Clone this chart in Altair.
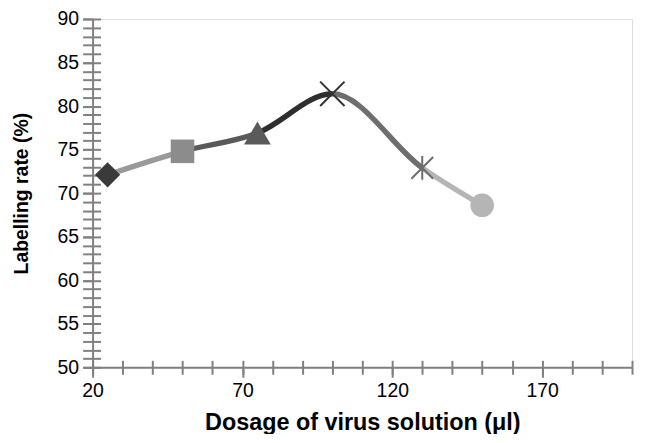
import altair as alt
import pandas as pd

# ---- data ----
dosage = [25, 50, 75, 100, 130, 150]
rate = [72.1, 74.8, 76.9, 81.4, 72.9, 68.6]
x_major = [20, 70, 120, 170]
x_minor = list(range(20, 201, 10))
y_major = list(range(50, 91, 5))
y_minor = list(range(50, 91, 1))

# ---- styles ----
X_PATH = "M -1 -1 L 1 1 M -1 1 L 1 -1"
AST_PATH = "M -1 -1 L 1 1 M -1 1 L 1 -1 M 0 -1.1 L 0 1.1"
marker_shapes = ["diamond", "square", "triangle-up", X_PATH, AST_PATH, "circle"]
marker_colors = ["#3a3a3a", "#8c8c8c", "#5a5a5a", "#333333", "#6e6e6e", "#b5b5b5"]
marker_sizes = [640, 560, 720, 600, 480, 560]
marker_filled = [True, True, True, False, False, True]
segment_colors = ["#9a9a9a", "#5a5a5a", "#2e2e2e", "#6e6e6e", "#b5b5b5"]

FONT = "Liberation Sans"
AX = "#808080"

df = pd.DataFrame({
    "dosage": dosage,
    "rate": rate,
    "shape": marker_shapes,
    "color": marker_colors,
    "size": marker_sizes,
    "filled": marker_filled,
})

lo, hi = dosage[0], dosage[-1]
stops = []
for i, c in enumerate(segment_colors):
    a = (dosage[i] - lo) / (hi - lo)
    b = (dosage[i + 1] - lo) / (hi - lo)
    stops.append(alt.GradientStop(offset=a, color=c))
    stops.append(alt.GradientStop(offset=b, color=c))
grad = alt.Gradient(gradient="linear", stops=stops, x1=0, x2=1, y1=0, y2=0)

xs = alt.Scale(domain=[20, 200], nice=False, zero=False)
ys = alt.Scale(domain=[50, 90], nice=False, zero=False)

common = dict(grid=False, tickColor=AX, tickWidth=2)

# main axes (labels + major ticks + domain)
x_main = alt.Axis(orient="bottom", values=x_major, tickSize=10, domainColor=AX, domainWidth=2,
                  labelFont=FONT, labelFontSize=19.5, labelColor="black", labelPadding=4,
                  labelFlush=False, title="Dosage of virus solution (μl)",
                  titleFont=FONT, titleFontSize=23.5, titleFontWeight="bold",
                  titleColor="black", titlePadding=11, **common)
y_main = alt.Axis(orient="left", values=y_major, tickSize=10, domainColor=AX, domainWidth=2,
                  labelFont=FONT, labelFontSize=19.5, labelColor="black", labelPadding=4,
                  labelFlush=False, title="Labelling rate (%)",
                  titleFont=FONT, titleFontSize=19.5, titleFontWeight="bold",
                  titleColor="black", titlePadding=26, **common)
# outer minor ticks
x_out = alt.Axis(orient="bottom", values=x_minor, tickSize=7, domain=False, labels=False,
                 title=None, **common)
y_out = alt.Axis(orient="left", values=y_minor, tickSize=10, domain=False, labels=False,
                 title=None, **common)
# inner halves of the crossing ticks
x_in = alt.Axis(orient="bottom", values=x_minor, tickSize=7, offset=-7, domain=False,
                labels=False, title=None, **common)
y_in = alt.Axis(orient="left", values=y_minor, tickSize=8, offset=-8, domain=False,
                labels=False, title=None, **common)

base = alt.Chart(df)

line = base.mark_line(interpolate="monotone", strokeWidth=5.5, color=grad, strokeCap="butt").encode(
    x=alt.X("dosage:Q", scale=xs, axis=x_main),
    y=alt.Y("rate:Q", scale=ys, axis=y_main),
)

filled_pts = base.transform_filter("datum.filled").mark_point(filled=True, opacity=1).encode(
    x=alt.X("dosage:Q", scale=xs, axis=x_out),
    y=alt.Y("rate:Q", scale=ys, axis=y_out),
    shape=alt.Shape("shape:N", scale=None),
    color=alt.Color("color:N", scale=None),
    size=alt.Size("size:Q", scale=None),
)

stroked_pts = base.transform_filter("!datum.filled").mark_point(filled=False, opacity=1, strokeWidth=2).encode(
    x=alt.X("dosage:Q", scale=xs, axis=x_in),
    y=alt.Y("rate:Q", scale=ys, axis=y_in),
    shape=alt.Shape("shape:N", scale=None),
    color=alt.Color("color:N", scale=None),
    size=alt.Size("size:Q", scale=None),
)

chart = alt.layer(line, filled_pts, stroked_pts).resolve_axis(
    x="independent", y="independent"
).properties(
    width=542, height=350,
    autosize=alt.AutoSizeParams(type="none"),
    padding={"left": 85, "top": 10, "right": 6, "bottom": 66},
).configure_view(stroke=None).configure(background="white")

chart.save("out.html", embed_options={"renderer": "svg", "actions": False})
